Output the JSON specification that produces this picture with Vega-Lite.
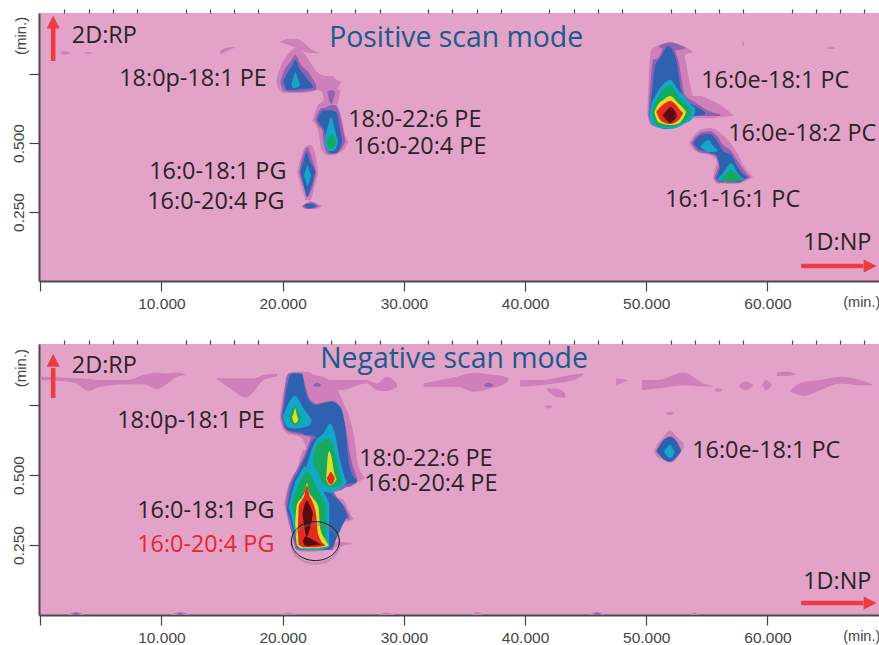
{"$schema":"https://vega.github.io/schema/vega-lite/v6.json","padding":{"left":0,"top":8,"right":0,"bottom":0},"background":"white","bounds":"flush","spacing":63,
"config":{"view":{"fill":"#e3a2c7","stroke":null},"axis":{"grid":false,"title":null}},
"datasets":{
"p1":[
{"c":"a","l":0,"x":19.47,"y":0.725,"v":0.725},{"c":"a","l":0,"x":19.72,"y":0.764,"v":0.692},{"c":"a","l":0,"x":20.21,"y":0.808,"v":0.681},{"c":"a","l":0,"x":20.79,"y":0.837,"v":0.681},{"c":"a","l":0,"x":21.2,"y":0.848,"v":0.681},{"c":"a","l":0,"x":21.7,"y":0.83,"v":0.681},{"c":"a","l":0,"x":22.28,"y":0.793,"v":0.685},{"c":"a","l":0,"x":22.85,"y":0.757,"v":0.692},{"c":"a","l":0,"x":23.51,"y":0.743,"v":0.685},{"c":"a","l":0,"x":24.09,"y":0.743,"v":0.692},{"c":"a","l":0,"x":24.42,"y":0.73,"v":0.695},{"c":"a","l":0,"x":24.83,"y":0.721,"v":0.721},
{"c":"b","l":0,"x":19.72,"y":0.866,"v":0.866},{"c":"b","l":0,"x":20.46,"y":0.877,"v":0.855},{"c":"b","l":0,"x":21.2,"y":0.877,"v":0.844},{"c":"b","l":0,"x":21.86,"y":0.859,"v":0.83},{"c":"b","l":0,"x":22.44,"y":0.837,"v":0.826},{"c":"b","l":0,"x":23.27,"y":0.826,"v":0.826},
{"c":"c","l":0,"x":23.27,"y":0.692,"v":0.692},{"c":"c","l":0,"x":23.51,"y":0.699,"v":0.638},{"c":"c","l":0,"x":24.01,"y":0.706,"v":0.627},{"c":"c","l":0,"x":24.5,"y":0.699,"v":0.638},{"c":"c","l":0,"x":24.75,"y":0.692,"v":0.692},
{"c":"d","l":0,"x":22.44,"y":0.58,"v":0.58},{"c":"d","l":0,"x":22.94,"y":0.638,"v":0.547},{"c":"d","l":0,"x":23.18,"y":0.648,"v":0.475},{"c":"d","l":0,"x":23.76,"y":0.656,"v":0.456},{"c":"d","l":0,"x":24.26,"y":0.645,"v":0.456},{"c":"d","l":0,"x":24.75,"y":0.612,"v":0.467},{"c":"d","l":0,"x":25.16,"y":0.529,"v":0.482},{"c":"d","l":0,"x":25.41,"y":0.504,"v":0.504},
{"c":"e","l":0,"x":21.2,"y":0.395,"v":0.395},{"c":"e","l":0,"x":21.45,"y":0.438,"v":0.355},{"c":"e","l":0,"x":21.7,"y":0.475,"v":0.322},{"c":"e","l":0,"x":21.95,"y":0.489,"v":0.293},{"c":"e","l":0,"x":22.28,"y":0.493,"v":0.293},{"c":"e","l":0,"x":22.6,"y":0.475,"v":0.337},{"c":"e","l":0,"x":22.94,"y":0.391,"v":0.391},
{"c":"f","l":0,"x":21.53,"y":0.272,"v":0.272},{"c":"f","l":0,"x":21.86,"y":0.279,"v":0.261},{"c":"f","l":0,"x":22.28,"y":0.29,"v":0.261},{"c":"f","l":0,"x":22.77,"y":0.279,"v":0.261},{"c":"f","l":0,"x":23.27,"y":0.272,"v":0.272},
{"c":"g","l":0,"x":1.65,"y":0.826,"v":0.826},{"c":"g","l":0,"x":1.98,"y":0.833,"v":0.819},{"c":"g","l":0,"x":2.48,"y":0.826,"v":0.826},
{"c":"h","l":0,"x":3.55,"y":0.826,"v":0.826},{"c":"h","l":0,"x":3.96,"y":0.83,"v":0.822},{"c":"h","l":0,"x":4.37,"y":0.826,"v":0.826},
{"c":"i","l":0,"x":14.85,"y":0.834,"v":0.82},{"c":"i","l":0,"x":15.26,"y":0.844,"v":0.83},{"c":"i","l":0,"x":16.09,"y":0.848,"v":0.846},
{"c":"j","l":0,"x":50.08,"y":0.601,"v":0.601},{"c":"j","l":0,"x":50.24,"y":0.764,"v":0.576},{"c":"j","l":0,"x":50.41,"y":0.837,"v":0.565},{"c":"j","l":0,"x":50.82,"y":0.851,"v":0.558},{"c":"j","l":0,"x":51.48,"y":0.859,"v":0.551},{"c":"j","l":0,"x":52.14,"y":0.859,"v":0.554},{"c":"j","l":0,"x":52.8,"y":0.848,"v":0.572},{"c":"j","l":0,"x":53.13,"y":0.819,"v":0.583},{"c":"j","l":0,"x":53.63,"y":0.71,"v":0.59},{"c":"j","l":0,"x":53.87,"y":0.67,"v":0.59},{"c":"j","l":0,"x":54.45,"y":0.67,"v":0.59},{"c":"j","l":0,"x":55.28,"y":0.656,"v":0.59},{"c":"j","l":0,"x":56.1,"y":0.638,"v":0.594},{"c":"j","l":0,"x":57.17,"y":0.601,"v":0.598},
{"c":"k","l":0,"x":52.64,"y":0.844,"v":0.815},{"c":"k","l":0,"x":53.3,"y":0.844,"v":0.822},{"c":"k","l":0,"x":53.87,"y":0.83,"v":0.83},
{"c":"m","l":0,"x":53.54,"y":0.5,"v":0.5},{"c":"m","l":0,"x":53.96,"y":0.529,"v":0.475},{"c":"m","l":0,"x":54.45,"y":0.547,"v":0.464},{"c":"m","l":0,"x":55.28,"y":0.554,"v":0.456},{"c":"m","l":0,"x":55.77,"y":0.547,"v":0.438},{"c":"m","l":0,"x":56.02,"y":0.54,"v":0.362},{"c":"m","l":0,"x":56.51,"y":0.522,"v":0.351},{"c":"m","l":0,"x":57.34,"y":0.475,"v":0.351},{"c":"m","l":0,"x":58.16,"y":0.409,"v":0.362},{"c":"m","l":0,"x":58.82,"y":0.377,"v":0.377},
{"c":"n","l":0,"x":55.52,"y":0.373,"v":0.373},{"c":"n","l":0,"x":55.77,"y":0.42,"v":0.355},{"c":"n","l":0,"x":56.1,"y":0.438,"v":0.351},
{"c":"o","l":0,"x":57.9,"y":0.86,"v":0.86},{"c":"o","l":0,"x":58.0,"y":0.868,"v":0.852},{"c":"o","l":0,"x":58.1,"y":0.86,"v":0.86},
{"c":"q","l":0,"x":64.9,"y":0.845,"v":0.845},{"c":"q","l":0,"x":65.2,"y":0.85,"v":0.84},{"c":"q","l":0,"x":65.6,"y":0.843,"v":0.843},
{"c":"a","l":1,"x":19.8,"y":0.721,"v":0.721},{"c":"a","l":1,"x":20.13,"y":0.764,"v":0.688},{"c":"a","l":1,"x":20.63,"y":0.793,"v":0.685},{"c":"a","l":1,"x":21.04,"y":0.819,"v":0.685},{"c":"a","l":1,"x":21.53,"y":0.782,"v":0.685},{"c":"a","l":1,"x":22.11,"y":0.757,"v":0.688},{"c":"a","l":1,"x":22.77,"y":0.71,"v":0.692},
{"c":"b","l":1,"x":23.68,"y":0.685,"v":0.685},{"c":"b","l":1,"x":24.01,"y":0.692,"v":0.641},{"c":"b","l":1,"x":24.34,"y":0.685,"v":0.685},
{"c":"c","l":1,"x":22.69,"y":0.583,"v":0.583},{"c":"c","l":1,"x":22.94,"y":0.612,"v":0.562},{"c":"c","l":1,"x":23.27,"y":0.627,"v":0.547},{"c":"c","l":1,"x":23.43,"y":0.627,"v":0.489},{"c":"c","l":1,"x":23.76,"y":0.634,"v":0.46},{"c":"c","l":1,"x":24.26,"y":0.638,"v":0.46},{"c":"c","l":1,"x":24.59,"y":0.619,"v":0.467},{"c":"c","l":1,"x":24.92,"y":0.565,"v":0.485},{"c":"c","l":1,"x":25.16,"y":0.504,"v":0.504},
{"c":"d","l":1,"x":21.37,"y":0.395,"v":0.395},{"c":"d","l":1,"x":21.62,"y":0.445,"v":0.355},{"c":"d","l":1,"x":21.86,"y":0.475,"v":0.33},{"c":"d","l":1,"x":22.03,"y":0.485,"v":0.305},{"c":"d","l":1,"x":22.28,"y":0.465,"v":0.32},{"c":"d","l":1,"x":22.52,"y":0.43,"v":0.35},{"c":"d","l":1,"x":22.77,"y":0.395,"v":0.395},
{"c":"e","l":1,"x":21.62,"y":0.272,"v":0.272},{"c":"e","l":1,"x":21.95,"y":0.282,"v":0.262},{"c":"e","l":1,"x":22.36,"y":0.285,"v":0.262},{"c":"e","l":1,"x":23.02,"y":0.272,"v":0.272},
{"c":"f","l":1,"x":50.16,"y":0.601,"v":0.601},{"c":"f","l":1,"x":50.33,"y":0.71,"v":0.576},{"c":"f","l":1,"x":50.57,"y":0.801,"v":0.565},{"c":"f","l":1,"x":50.99,"y":0.808,"v":0.558},{"c":"f","l":1,"x":51.56,"y":0.851,"v":0.551},{"c":"f","l":1,"x":52.14,"y":0.848,"v":0.554},{"c":"f","l":1,"x":52.64,"y":0.801,"v":0.576},{"c":"f","l":1,"x":53.21,"y":0.674,"v":0.59},{"c":"f","l":1,"x":54.04,"y":0.648,"v":0.598},{"c":"f","l":1,"x":55.03,"y":0.619,"v":0.598},{"c":"f","l":1,"x":56.1,"y":0.605,"v":0.598},
{"c":"g","l":1,"x":51.0,"y":0.85,"v":0.85},{"c":"g","l":1,"x":51.98,"y":0.865,"v":0.835},{"c":"g","l":1,"x":52.8,"y":0.855,"v":0.838},{"c":"g","l":1,"x":53.3,"y":0.845,"v":0.845},
{"c":"h","l":1,"x":53.71,"y":0.5,"v":0.5},{"c":"h","l":1,"x":54.12,"y":0.525,"v":0.475},{"c":"h","l":1,"x":54.62,"y":0.54,"v":0.464},{"c":"h","l":1,"x":55.28,"y":0.543,"v":0.46},{"c":"h","l":1,"x":55.77,"y":0.529,"v":0.449},{"c":"h","l":1,"x":56.35,"y":0.493,"v":0.359},{"c":"h","l":1,"x":56.93,"y":0.475,"v":0.355},{"c":"h","l":1,"x":57.59,"y":0.431,"v":0.355},{"c":"h","l":1,"x":58.16,"y":0.395,"v":0.366},{"c":"h","l":1,"x":58.58,"y":0.377,"v":0.377},
{"c":"i","l":1,"x":55.61,"y":0.373,"v":0.373},{"c":"i","l":1,"x":55.85,"y":0.402,"v":0.359},{"c":"i","l":1,"x":56.35,"y":0.438,"v":0.355},
{"c":"a","l":2,"x":20.05,"y":0.725,"v":0.725},{"c":"a","l":2,"x":20.38,"y":0.754,"v":0.692},{"c":"a","l":2,"x":20.79,"y":0.782,"v":0.692},{"c":"a","l":2,"x":21.04,"y":0.801,"v":0.692},{"c":"a","l":2,"x":21.37,"y":0.772,"v":0.696},{"c":"a","l":2,"x":21.78,"y":0.746,"v":0.696},{"c":"a","l":2,"x":22.52,"y":0.706,"v":0.699},
{"c":"b","l":2,"x":22.85,"y":0.583,"v":0.583},{"c":"b","l":2,"x":23.18,"y":0.612,"v":0.562},{"c":"b","l":2,"x":23.43,"y":0.619,"v":0.547},{"c":"b","l":2,"x":23.6,"y":0.619,"v":0.482},{"c":"b","l":2,"x":24.01,"y":0.619,"v":0.464},{"c":"b","l":2,"x":24.42,"y":0.612,"v":0.464},{"c":"b","l":2,"x":24.67,"y":0.565,"v":0.475},{"c":"b","l":2,"x":24.92,"y":0.507,"v":0.507},
{"c":"c","l":2,"x":21.45,"y":0.395,"v":0.395},{"c":"c","l":2,"x":21.7,"y":0.431,"v":0.355},{"c":"c","l":2,"x":21.86,"y":0.456,"v":0.322},{"c":"c","l":2,"x":22.03,"y":0.467,"v":0.304},{"c":"c","l":2,"x":22.19,"y":0.438,"v":0.322},{"c":"c","l":2,"x":22.44,"y":0.42,"v":0.355},{"c":"c","l":2,"x":22.69,"y":0.395,"v":0.395},
{"c":"d","l":2,"x":21.78,"y":0.272,"v":0.272},{"c":"d","l":2,"x":22.03,"y":0.279,"v":0.264},{"c":"d","l":2,"x":22.36,"y":0.279,"v":0.264},{"c":"d","l":2,"x":22.77,"y":0.272,"v":0.272},
{"c":"e","l":2,"x":50.24,"y":0.601,"v":0.601},{"c":"e","l":2,"x":50.41,"y":0.663,"v":0.572},{"c":"e","l":2,"x":50.74,"y":0.782,"v":0.562},{"c":"e","l":2,"x":51.15,"y":0.808,"v":0.554},{"c":"e","l":2,"x":51.81,"y":0.851,"v":0.551},{"c":"e","l":2,"x":52.47,"y":0.801,"v":0.565},{"c":"e","l":2,"x":52.88,"y":0.692,"v":0.583},{"c":"e","l":2,"x":53.3,"y":0.656,"v":0.59},{"c":"e","l":2,"x":54.04,"y":0.634,"v":0.598},{"c":"e","l":2,"x":54.86,"y":0.612,"v":0.601},
{"c":"f","l":2,"x":53.87,"y":0.5,"v":0.5},{"c":"f","l":2,"x":54.29,"y":0.522,"v":0.478},{"c":"f","l":2,"x":54.78,"y":0.533,"v":0.471},{"c":"f","l":2,"x":55.28,"y":0.533,"v":0.464},{"c":"f","l":2,"x":55.77,"y":0.511,"v":0.456},{"c":"f","l":2,"x":56.43,"y":0.467,"v":0.362},{"c":"f","l":2,"x":57.01,"y":0.456,"v":0.359},{"c":"f","l":2,"x":57.59,"y":0.409,"v":0.359},{"c":"f","l":2,"x":58.08,"y":0.384,"v":0.369},{"c":"f","l":2,"x":58.41,"y":0.377,"v":0.377},
{"c":"g","l":2,"x":55.77,"y":0.373,"v":0.373},{"c":"g","l":2,"x":56.02,"y":0.402,"v":0.362},{"c":"g","l":2,"x":56.43,"y":0.431,"v":0.359},
{"c":"a","l":3,"x":20.71,"y":0.714,"v":0.714},{"c":"a","l":3,"x":20.87,"y":0.735,"v":0.699},{"c":"a","l":3,"x":21.04,"y":0.757,"v":0.699},{"c":"a","l":3,"x":21.29,"y":0.728,"v":0.703},{"c":"a","l":3,"x":21.45,"y":0.71,"v":0.71},
{"c":"b","l":3,"x":23.43,"y":0.507,"v":0.507},{"c":"b","l":3,"x":23.68,"y":0.554,"v":0.475},{"c":"b","l":3,"x":23.84,"y":0.576,"v":0.471},{"c":"b","l":3,"x":23.93,"y":0.594,"v":0.471},{"c":"b","l":3,"x":24.17,"y":0.576,"v":0.471},{"c":"b","l":3,"x":24.34,"y":0.54,"v":0.475},{"c":"b","l":3,"x":24.59,"y":0.507,"v":0.507},
{"c":"c","l":3,"x":21.74,"y":0.384,"v":0.384},{"c":"c","l":3,"x":21.95,"y":0.409,"v":0.355},{"c":"c","l":3,"x":22.03,"y":0.42,"v":0.344},{"c":"c","l":3,"x":22.19,"y":0.402,"v":0.359},{"c":"c","l":3,"x":22.36,"y":0.384,"v":0.384},
{"c":"d","l":3,"x":50.24,"y":0.601,"v":0.601},{"c":"d","l":3,"x":50.41,"y":0.638,"v":0.569},{"c":"d","l":3,"x":50.74,"y":0.67,"v":0.562},{"c":"d","l":3,"x":51.15,"y":0.699,"v":0.554},{"c":"d","l":3,"x":51.98,"y":0.728,"v":0.551},{"c":"d","l":3,"x":52.64,"y":0.692,"v":0.558},{"c":"d","l":3,"x":53.21,"y":0.663,"v":0.572},{"c":"d","l":3,"x":53.71,"y":0.638,"v":0.583},{"c":"d","l":3,"x":54.04,"y":0.627,"v":0.612},
{"c":"e","l":3,"x":54.45,"y":0.485,"v":0.485},{"c":"e","l":3,"x":54.78,"y":0.503,"v":0.475},{"c":"e","l":3,"x":55.11,"y":0.511,"v":0.467},{"c":"e","l":3,"x":55.52,"y":0.489,"v":0.467},{"c":"e","l":3,"x":55.94,"y":0.471,"v":0.471},
{"c":"f","l":3,"x":55.85,"y":0.369,"v":0.369},{"c":"f","l":3,"x":56.27,"y":0.388,"v":0.362},{"c":"f","l":3,"x":57.01,"y":0.427,"v":0.359},{"c":"f","l":3,"x":57.59,"y":0.388,"v":0.362},{"c":"f","l":3,"x":58.16,"y":0.369,"v":0.369},
{"c":"a","l":4,"x":23.65,"y":0.503,"v":0.503},{"c":"a","l":4,"x":23.84,"y":0.522,"v":0.482},{"c":"a","l":4,"x":24.01,"y":0.533,"v":0.478},{"c":"a","l":4,"x":24.26,"y":0.522,"v":0.485},{"c":"a","l":4,"x":24.42,"y":0.503,"v":0.503},
{"c":"b","l":4,"x":50.49,"y":0.612,"v":0.612},{"c":"b","l":4,"x":50.74,"y":0.648,"v":0.572},{"c":"b","l":4,"x":51.15,"y":0.677,"v":0.562},{"c":"b","l":4,"x":51.98,"y":0.71,"v":0.558},{"c":"b","l":4,"x":52.64,"y":0.67,"v":0.565},{"c":"b","l":4,"x":53.13,"y":0.648,"v":0.576},{"c":"b","l":4,"x":53.71,"y":0.62,"v":0.601},
{"c":"c","l":4,"x":56.1,"y":0.366,"v":0.366},{"c":"c","l":4,"x":56.51,"y":0.384,"v":0.362},{"c":"c","l":4,"x":57.01,"y":0.402,"v":0.359},{"c":"c","l":4,"x":57.5,"y":0.384,"v":0.362},{"c":"c","l":4,"x":57.92,"y":0.366,"v":0.366},
{"c":"a","l":5,"x":50.66,"y":0.612,"v":0.612},{"c":"a","l":5,"x":50.99,"y":0.641,"v":0.576},{"c":"a","l":5,"x":51.4,"y":0.656,"v":0.569},{"c":"a","l":5,"x":51.98,"y":0.67,"v":0.565},{"c":"a","l":5,"x":52.55,"y":0.648,"v":0.569},{"c":"a","l":5,"x":52.97,"y":0.63,"v":0.583},{"c":"a","l":5,"x":53.3,"y":0.612,"v":0.612},
{"c":"a","l":6,"x":50.82,"y":0.612,"v":0.612},{"c":"a","l":6,"x":51.15,"y":0.63,"v":0.583},{"c":"a","l":6,"x":51.56,"y":0.645,"v":0.572},{"c":"a","l":6,"x":51.98,"y":0.652,"v":0.569},{"c":"a","l":6,"x":52.47,"y":0.638,"v":0.576},{"c":"a","l":6,"x":52.8,"y":0.619,"v":0.59},{"c":"a","l":6,"x":53.05,"y":0.609,"v":0.609},
{"c":"a","l":7,"x":51.32,"y":0.601,"v":0.601},{"c":"a","l":7,"x":51.65,"y":0.616,"v":0.583},{"c":"a","l":7,"x":51.98,"y":0.63,"v":0.572},{"c":"a","l":7,"x":52.31,"y":0.619,"v":0.583},{"c":"a","l":7,"x":52.55,"y":0.598,"v":0.598}
],
"p2":[
{"c":"a","l":0,"x":19.75,"y":0.708,"v":0.708},{"c":"a","l":0,"x":19.94,"y":0.768,"v":0.672},{"c":"a","l":0,"x":20.21,"y":0.827,"v":0.655},{"c":"a","l":0,"x":20.49,"y":0.863,"v":0.646},{"c":"a","l":0,"x":20.9,"y":0.869,"v":0.643},{"c":"a","l":0,"x":21.59,"y":0.869,"v":0.631},{"c":"a","l":0,"x":22.0,"y":0.869,"v":0.589},{"c":"a","l":0,"x":22.69,"y":0.857,"v":0.482},{"c":"a","l":0,"x":23.65,"y":0.845,"v":0.44},{"c":"a","l":0,"x":24.48,"y":0.809,"v":0.44},{"c":"a","l":0,"x":25.03,"y":0.756,"v":0.458},{"c":"a","l":0,"x":25.85,"y":0.649,"v":0.464},{"c":"a","l":0,"x":26.26,"y":0.53,"v":0.476},{"c":"a","l":0,"x":26.81,"y":0.488,"v":0.488},
{"c":"b","l":0,"x":20.13,"y":0.399,"v":0.399},{"c":"b","l":0,"x":20.35,"y":0.446,"v":0.351},{"c":"b","l":0,"x":20.9,"y":0.494,"v":0.28},{"c":"b","l":0,"x":21.18,"y":0.518,"v":0.232},{"c":"b","l":0,"x":21.73,"y":0.589,"v":0.226},{"c":"b","l":0,"x":22.55,"y":0.589,"v":0.226},{"c":"b","l":0,"x":23.65,"y":0.518,"v":0.232},{"c":"b","l":0,"x":24.06,"y":0.458,"v":0.232},{"c":"b","l":0,"x":24.48,"y":0.422,"v":0.292},{"c":"b","l":0,"x":25.03,"y":0.411,"v":0.327},{"c":"b","l":0,"x":25.71,"y":0.351,"v":0.339},{"c":"b","l":0,"x":25.93,"y":0.345,"v":0.345},
{"c":"c","l":0,"x":23.93,"y":0.256,"v":0.238},{"c":"c","l":0,"x":24.75,"y":0.262,"v":0.246},{"c":"c","l":0,"x":25.85,"y":0.254,"v":0.254},
{"c":"s1","l":0,"x":0.0,"y":0.851,"v":0.839},{"c":"s1","l":0,"x":2.75,"y":0.847,"v":0.831},{"c":"s1","l":0,"x":3.99,"y":0.843,"v":0.8},{"c":"s1","l":0,"x":4.95,"y":0.839,"v":0.815},{"c":"s1","l":0,"x":7.15,"y":0.839,"v":0.824},{"c":"s1","l":0,"x":8.53,"y":0.857,"v":0.824},{"c":"s1","l":0,"x":9.63,"y":0.866,"v":0.807},{"c":"s1","l":0,"x":10.31,"y":0.863,"v":0.821},{"c":"s1","l":0,"x":11.28,"y":0.866,"v":0.851},{"c":"s1","l":0,"x":12.05,"y":0.857,"v":0.857},
{"c":"s2","l":0,"x":14.58,"y":0.847,"v":0.843},{"c":"s2","l":0,"x":15.68,"y":0.845,"v":0.809},{"c":"s2","l":0,"x":17.05,"y":0.845,"v":0.776},{"c":"s2","l":0,"x":17.6,"y":0.845,"v":0.797},{"c":"s2","l":0,"x":18.43,"y":0.857,"v":0.839},{"c":"s2","l":0,"x":19.53,"y":0.863,"v":0.851},
{"c":"s3","l":0,"x":23.1,"y":0.839,"v":0.815},{"c":"s3","l":0,"x":24.75,"y":0.839,"v":0.803},{"c":"s3","l":0,"x":26.95,"y":0.839,"v":0.827},{"c":"s3","l":0,"x":27.78,"y":0.827,"v":0.803},{"c":"s3","l":0,"x":28.6,"y":0.851,"v":0.8},{"c":"s3","l":0,"x":29.43,"y":0.827,"v":0.815},
{"c":"s4","l":0,"x":31.63,"y":0.827,"v":0.815},{"c":"s4","l":0,"x":33.0,"y":0.839,"v":0.815},{"c":"s4","l":0,"x":34.38,"y":0.851,"v":0.815},{"c":"s4","l":0,"x":35.75,"y":0.865,"v":0.797},{"c":"s4","l":0,"x":37.13,"y":0.859,"v":0.809},{"c":"s4","l":0,"x":38.36,"y":0.851,"v":0.827},{"c":"s4","l":0,"x":38.64,"y":0.845,"v":0.839},
{"c":"s5","l":0,"x":39.6,"y":0.839,"v":0.815},{"c":"s5","l":0,"x":41.25,"y":0.839,"v":0.821},{"c":"s5","l":0,"x":44.0,"y":0.859,"v":0.839},{"c":"s5","l":0,"x":44.83,"y":0.863,"v":0.859},
{"c":"s6","l":0,"x":47.52,"y":0.845,"v":0.821},{"c":"s6","l":0,"x":48.54,"y":0.839,"v":0.839},
{"c":"s7","l":0,"x":49.64,"y":0.839,"v":0.803},{"c":"s7","l":0,"x":50.88,"y":0.839,"v":0.809},{"c":"s7","l":0,"x":53.08,"y":0.866,"v":0.821},{"c":"s7","l":0,"x":54.73,"y":0.827,"v":0.817},{"c":"s7","l":0,"x":55.55,"y":0.817,"v":0.817},
{"c":"s8","l":0,"x":57.61,"y":0.821,"v":0.821},{"c":"s8","l":0,"x":58.16,"y":0.833,"v":0.803},{"c":"s8","l":0,"x":58.85,"y":0.821,"v":0.821},
{"c":"s9","l":0,"x":59.54,"y":0.822,"v":0.822},{"c":"s9","l":0,"x":59.9,"y":0.839,"v":0.803},{"c":"s9","l":0,"x":60.36,"y":0.822,"v":0.822},
{"c":"s10","l":0,"x":60.78,"y":0.866,"v":0.854},{"c":"s10","l":0,"x":61.6,"y":0.869,"v":0.854},{"c":"s10","l":0,"x":62.43,"y":0.859,"v":0.859},
{"c":"s11","l":0,"x":61.88,"y":0.803,"v":0.797},{"c":"s11","l":0,"x":62.98,"y":0.833,"v":0.783},{"c":"s11","l":0,"x":64.35,"y":0.839,"v":0.803},{"c":"s11","l":0,"x":66.0,"y":0.851,"v":0.827},{"c":"s11","l":0,"x":67.65,"y":0.839,"v":0.821},{"c":"s11","l":0,"x":68.75,"y":0.821,"v":0.821},
{"c":"s12","l":0,"x":41.8,"y":0.809,"v":0.803},{"c":"s12","l":0,"x":42.63,"y":0.809,"v":0.779},{"c":"s12","l":0,"x":43.31,"y":0.791,"v":0.776},
{"c":"t1","l":0,"x":41.6,"y":0.744,"v":0.744},{"c":"t1","l":0,"x":41.94,"y":0.75,"v":0.738},{"c":"t1","l":0,"x":42.3,"y":0.744,"v":0.744},
{"c":"t2","l":0,"x":51.6,"y":0.72,"v":0.72},{"c":"t2","l":0,"x":51.98,"y":0.726,"v":0.714},{"c":"t2","l":0,"x":52.3,"y":0.72,"v":0.72},
{"c":"t3","l":0,"x":55.6,"y":0.803,"v":0.803},{"c":"t3","l":0,"x":55.96,"y":0.81,"v":0.797},{"c":"t3","l":0,"x":56.3,"y":0.803,"v":0.803},
{"c":"u1","l":0,"x":19.8,"y":0,"v":0},{"c":"u1","l":0,"x":20.49,"y":0.009,"v":0},{"c":"u1","l":0,"x":21.18,"y":0,"v":0},
{"c":"u2","l":0,"x":27.91,"y":0,"v":0},{"c":"u2","l":0,"x":28.6,"y":0.009,"v":0},{"c":"u2","l":0,"x":29.29,"y":0,"v":0},
{"c":"u3","l":0,"x":35.61,"y":0,"v":0},{"c":"u3","l":0,"x":36.08,"y":0.011,"v":0},{"c":"u3","l":0,"x":36.58,"y":0,"v":0},
{"c":"u4","l":0,"x":53.63,"y":0,"v":0},{"c":"u4","l":0,"x":53.96,"y":0.009,"v":0},{"c":"u4","l":0,"x":54.31,"y":0,"v":0},
{"c":"u5","l":0,"x":2.2,"y":0,"v":0},{"c":"u5","l":0,"x":2.97,"y":0.012,"v":0},{"c":"u5","l":0,"x":3.7,"y":0,"v":0},
{"c":"u6","l":0,"x":10.7,"y":0,"v":0},{"c":"u6","l":0,"x":11.55,"y":0.012,"v":0},{"c":"u6","l":0,"x":12.4,"y":0,"v":0},
{"c":"u7","l":0,"x":45.24,"y":0,"v":0},{"c":"u7","l":0,"x":45.98,"y":0.012,"v":0},{"c":"u7","l":0,"x":46.61,"y":0,"v":0},
{"c":"z","l":0,"x":50.6,"y":0.583,"v":0.583},{"c":"z","l":0,"x":50.88,"y":0.607,"v":0.565},{"c":"z","l":0,"x":51.43,"y":0.637,"v":0.553},{"c":"z","l":0,"x":51.98,"y":0.66,"v":0.545},{"c":"z","l":0,"x":52.39,"y":0.643,"v":0.553},{"c":"z","l":0,"x":53.08,"y":0.613,"v":0.597},
{"c":"a","l":1,"x":19.86,"y":0.708,"v":0.708},{"c":"a","l":1,"x":20.08,"y":0.774,"v":0.672},{"c":"a","l":1,"x":20.3,"y":0.845,"v":0.66},{"c":"a","l":1,"x":20.49,"y":0.863,"v":0.655},{"c":"a","l":1,"x":20.9,"y":0.865,"v":0.649},{"c":"a","l":1,"x":21.59,"y":0.86,"v":0.643},{"c":"a","l":1,"x":21.86,"y":0.82,"v":0.64},{"c":"a","l":1,"x":22.28,"y":0.77,"v":0.635},{"c":"a","l":1,"x":22.83,"y":0.755,"v":0.6},{"c":"a","l":1,"x":23.38,"y":0.76,"v":0.55},{"c":"a","l":1,"x":24.06,"y":0.765,"v":0.455},{"c":"a","l":1,"x":24.75,"y":0.74,"v":0.445},{"c":"a","l":1,"x":25.16,"y":0.68,"v":0.455},{"c":"a","l":1,"x":25.63,"y":0.56,"v":0.46},{"c":"a","l":1,"x":26.13,"y":0.49,"v":0.475},
{"c":"d","l":1,"x":22.5,"y":0.82,"v":0.82},{"c":"d","l":1,"x":22.83,"y":0.83,"v":0.815},{"c":"d","l":1,"x":23.2,"y":0.82,"v":0.82},
{"c":"b","l":1,"x":20.24,"y":0.4,"v":0.4},{"c":"b","l":1,"x":20.46,"y":0.45,"v":0.345},{"c":"b","l":1,"x":20.79,"y":0.49,"v":0.285},{"c":"b","l":1,"x":21.12,"y":0.515,"v":0.234},{"c":"b","l":1,"x":21.73,"y":0.565,"v":0.23},{"c":"b","l":1,"x":22.55,"y":0.64,"v":0.23},{"c":"b","l":1,"x":23.79,"y":0.5,"v":0.232},{"c":"b","l":1,"x":24.15,"y":0.45,"v":0.232},{"c":"b","l":1,"x":24.61,"y":0.41,"v":0.33},{"c":"b","l":1,"x":25.08,"y":0.39,"v":0.345},{"c":"b","l":1,"x":25.52,"y":0.35,"v":0.34},
{"c":"e","l":1,"x":36.58,"y":0.821,"v":0.821},{"c":"e","l":1,"x":36.99,"y":0.83,"v":0.814},{"c":"e","l":1,"x":37.4,"y":0.821,"v":0.821},
{"c":"f","l":1,"x":2.6,"y":0,"v":0},{"c":"f","l":1,"x":2.97,"y":0.009,"v":0},{"c":"f","l":1,"x":3.3,"y":0,"v":0},
{"c":"g","l":1,"x":11.2,"y":0,"v":0},{"c":"g","l":1,"x":11.55,"y":0.008,"v":0},{"c":"g","l":1,"x":11.9,"y":0,"v":0},
{"c":"h","l":1,"x":45.6,"y":0,"v":0},{"c":"h","l":1,"x":45.98,"y":0.009,"v":0},{"c":"h","l":1,"x":46.3,"y":0,"v":0},
{"c":"a","l":2,"x":19.97,"y":0.708,"v":0.708},{"c":"a","l":2,"x":20.13,"y":0.756,"v":0.678},{"c":"a","l":2,"x":20.41,"y":0.827,"v":0.663},{"c":"a","l":2,"x":20.63,"y":0.857,"v":0.657},{"c":"a","l":2,"x":20.9,"y":0.863,"v":0.655},{"c":"a","l":2,"x":21.59,"y":0.863,"v":0.651},{"c":"a","l":2,"x":21.86,"y":0.803,"v":0.643},{"c":"a","l":2,"x":22.28,"y":0.762,"v":0.643},{"c":"a","l":2,"x":22.83,"y":0.75,"v":0.631},{"c":"a","l":2,"x":23.38,"y":0.756,"v":0.565},{"c":"a","l":2,"x":24.06,"y":0.762,"v":0.47},{"c":"a","l":2,"x":24.75,"y":0.744,"v":0.452},{"c":"a","l":2,"x":25.16,"y":0.672,"v":0.464},{"c":"a","l":2,"x":25.44,"y":0.553,"v":0.47},{"c":"a","l":2,"x":25.85,"y":0.494,"v":0.47},{"c":"a","l":2,"x":26.18,"y":0.482,"v":0.482},
{"c":"b","l":2,"x":20.35,"y":0.375,"v":0.375},{"c":"b","l":2,"x":20.57,"y":0.434,"v":0.351},{"c":"b","l":2,"x":20.9,"y":0.482,"v":0.292},{"c":"b","l":2,"x":21.23,"y":0.506,"v":0.238},{"c":"b","l":2,"x":21.86,"y":0.565,"v":0.232},{"c":"b","l":2,"x":22.69,"y":0.631,"v":0.232},{"c":"b","l":2,"x":23.79,"y":0.518,"v":0.234},{"c":"b","l":2,"x":23.98,"y":0.44,"v":0.238},{"c":"b","l":2,"x":24.75,"y":0.405,"v":0.303},{"c":"b","l":2,"x":25.16,"y":0.375,"v":0.339},{"c":"b","l":2,"x":25.36,"y":0.351,"v":0.351},
{"c":"z","l":2,"x":50.82,"y":0.585,"v":0.585},{"c":"z","l":2,"x":51.29,"y":0.619,"v":0.562},{"c":"z","l":2,"x":51.98,"y":0.637,"v":0.547},{"c":"z","l":2,"x":52.53,"y":0.619,"v":0.565},{"c":"z","l":2,"x":52.86,"y":0.589,"v":0.585},
{"c":"a","l":3,"x":20.02,"y":0.708,"v":0.708},{"c":"a","l":3,"x":20.35,"y":0.744,"v":0.672},{"c":"a","l":3,"x":21.04,"y":0.782,"v":0.666},{"c":"a","l":3,"x":21.73,"y":0.738,"v":0.67},{"c":"a","l":3,"x":22.22,"y":0.708,"v":0.678},{"c":"a","l":3,"x":22.41,"y":0.696,"v":0.696},
{"c":"b","l":3,"x":20.49,"y":0.387,"v":0.387},{"c":"b","l":3,"x":20.76,"y":0.434,"v":0.345},{"c":"b","l":3,"x":21.04,"y":0.476,"v":0.28},{"c":"b","l":3,"x":21.31,"y":0.496,"v":0.238},{"c":"b","l":3,"x":21.86,"y":0.53,"v":0.232},{"c":"b","l":3,"x":22.28,"y":0.53,"v":0.232},{"c":"b","l":3,"x":22.96,"y":0.47,"v":0.232},{"c":"b","l":3,"x":23.6,"y":0.422,"v":0.238},{"c":"b","l":3,"x":23.84,"y":0.399,"v":0.246},
{"c":"c","l":3,"x":21.73,"y":0.482,"v":0.482},{"c":"c","l":3,"x":22.28,"y":0.577,"v":0.47},{"c":"c","l":3,"x":22.69,"y":0.619,"v":0.44},{"c":"c","l":3,"x":23.38,"y":0.649,"v":0.44},{"c":"c","l":3,"x":23.93,"y":0.684,"v":0.437},{"c":"c","l":3,"x":24.26,"y":0.655,"v":0.44},{"c":"c","l":3,"x":24.75,"y":0.553,"v":0.452},{"c":"c","l":3,"x":25.16,"y":0.488,"v":0.464},{"c":"c","l":3,"x":25.3,"y":0.476,"v":0.476},
{"c":"z","l":3,"x":51.48,"y":0.583,"v":0.583},{"c":"z","l":3,"x":51.7,"y":0.597,"v":0.569},{"c":"z","l":3,"x":51.98,"y":0.609,"v":0.559},{"c":"z","l":3,"x":52.2,"y":0.595,"v":0.569},{"c":"z","l":3,"x":52.39,"y":0.583,"v":0.583},
{"c":"a","l":4,"x":20.49,"y":0.708,"v":0.708},{"c":"a","l":4,"x":20.76,"y":0.726,"v":0.684},{"c":"a","l":4,"x":21.01,"y":0.75,"v":0.678},{"c":"a","l":4,"x":21.31,"y":0.726,"v":0.684},{"c":"a","l":4,"x":21.59,"y":0.702,"v":0.702},
{"c":"b","l":4,"x":20.76,"y":0.387,"v":0.387},{"c":"b","l":4,"x":21.04,"y":0.434,"v":0.345},{"c":"b","l":4,"x":21.31,"y":0.464,"v":0.268},{"c":"b","l":4,"x":21.59,"y":0.488,"v":0.244},{"c":"b","l":4,"x":22.0,"y":0.512,"v":0.238},{"c":"b","l":4,"x":22.41,"y":0.494,"v":0.238},{"c":"b","l":4,"x":22.96,"y":0.44,"v":0.238},{"c":"b","l":4,"x":23.38,"y":0.411,"v":0.244},{"c":"b","l":4,"x":23.6,"y":0.387,"v":0.256},
{"c":"c","l":4,"x":22.55,"y":0.565,"v":0.53},{"c":"c","l":4,"x":22.83,"y":0.607,"v":0.518},{"c":"c","l":4,"x":23.38,"y":0.625,"v":0.464},{"c":"c","l":4,"x":23.79,"y":0.631,"v":0.458},{"c":"c","l":4,"x":24.34,"y":0.577,"v":0.458},{"c":"c","l":4,"x":24.7,"y":0.506,"v":0.464},{"c":"c","l":4,"x":24.97,"y":0.476,"v":0.476},
{"c":"a","l":5,"x":20.78,"y":0.708,"v":0.708},{"c":"a","l":5,"x":20.9,"y":0.72,"v":0.69},{"c":"a","l":5,"x":21.04,"y":0.738,"v":0.685},{"c":"a","l":5,"x":21.2,"y":0.71,"v":0.69},{"c":"a","l":5,"x":21.3,"y":0.7,"v":0.7},
{"c":"b","l":5,"x":23.6,"y":0.485,"v":0.485},{"c":"b","l":5,"x":23.75,"y":0.575,"v":0.47},{"c":"b","l":5,"x":23.85,"y":0.585,"v":0.465},{"c":"b","l":5,"x":24.0,"y":0.57,"v":0.465},{"c":"b","l":5,"x":24.3,"y":0.5,"v":0.475},{"c":"b","l":5,"x":24.45,"y":0.485,"v":0.485},
{"c":"c","l":5,"x":21.04,"y":0.33,"v":0.33},{"c":"c","l":5,"x":21.18,"y":0.395,"v":0.25},{"c":"c","l":5,"x":21.59,"y":0.42,"v":0.238},{"c":"c","l":5,"x":21.86,"y":0.445,"v":0.238},{"c":"c","l":5,"x":22.0,"y":0.472,"v":0.238},{"c":"c","l":5,"x":22.14,"y":0.445,"v":0.238},{"c":"c","l":5,"x":22.47,"y":0.42,"v":0.238},{"c":"c","l":5,"x":22.96,"y":0.385,"v":0.238},{"c":"c","l":5,"x":23.1,"y":0.31,"v":0.24},{"c":"c","l":5,"x":23.51,"y":0.27,"v":0.244},{"c":"c","l":5,"x":23.79,"y":0.25,"v":0.246},
{"c":"a","l":6,"x":23.65,"y":0.488,"v":0.488},{"c":"a","l":6,"x":23.79,"y":0.5,"v":0.472},{"c":"a","l":6,"x":23.98,"y":0.512,"v":0.466},{"c":"a","l":6,"x":24.17,"y":0.5,"v":0.472},{"c":"a","l":6,"x":24.31,"y":0.488,"v":0.488},
{"c":"b","l":6,"x":21.26,"y":0.3,"v":0.3},{"c":"b","l":6,"x":21.34,"y":0.39,"v":0.25},{"c":"b","l":6,"x":21.59,"y":0.41,"v":0.244},{"c":"b","l":6,"x":21.81,"y":0.43,"v":0.242},{"c":"b","l":6,"x":21.92,"y":0.455,"v":0.242},{"c":"b","l":6,"x":22.0,"y":0.462,"v":0.242},{"c":"b","l":6,"x":22.08,"y":0.455,"v":0.242},{"c":"b","l":6,"x":22.19,"y":0.43,"v":0.242},{"c":"b","l":6,"x":22.41,"y":0.41,"v":0.242},{"c":"b","l":6,"x":22.77,"y":0.355,"v":0.242},{"c":"b","l":6,"x":22.88,"y":0.3,"v":0.243},{"c":"b","l":6,"x":23.1,"y":0.27,"v":0.244},{"c":"b","l":6,"x":23.51,"y":0.25,"v":0.248},
{"c":"a","l":7,"x":21.64,"y":0.36,"v":0.36},{"c":"a","l":7,"x":21.81,"y":0.395,"v":0.31},{"c":"a","l":7,"x":22.0,"y":0.41,"v":0.28},{"c":"a","l":7,"x":22.19,"y":0.395,"v":0.3},{"c":"a","l":7,"x":22.41,"y":0.375,"v":0.34},{"c":"a","l":7,"x":22.5,"y":0.363,"v":0.363},
{"c":"b","l":7,"x":21.67,"y":0.262,"v":0.262},{"c":"b","l":7,"x":21.86,"y":0.28,"v":0.248},{"c":"b","l":7,"x":22.14,"y":0.276,"v":0.246},{"c":"b","l":7,"x":22.55,"y":0.268,"v":0.249},{"c":"b","l":7,"x":22.96,"y":0.256,"v":0.251},{"c":"b","l":7,"x":23.18,"y":0.251,"v":0.251}
]},
"vconcat":[
{"width":840,"height":268,"resolve":{"axis":{"x":"independent","y":"independent"}},"layer":[
{"data":{"name":"p1"},"mark":{"type":"area","interpolate":"monotone"},"encoding":{"detail":{"field":"c"},"x":{"field":"x","type":"quantitative","scale":{"domain":[-0.1,69.2],"nice":false,"zero":false},"axis":{"values":[0,10,20,30,40,50,60],"labelExpr":"datum.value==0?'':format(datum.value,'.3f')","tickSize":10,"tickWidth":1.2,"tickColor":"#444","domainColor":"#4a4a4a","domainWidth":2,"labelFont":"Liberation Sans","labelFontSize":15.5,"labelColor":"#444","labelPadding":5,"labelFlush":false}},"y":{"field":"y","type":"quantitative","scale":{"domain":[0,0.971],"nice":false,"zero":false},"axis":{"values":[0.25,0.5,0.75],"labelExpr":"datum.value==0.75?'':format(datum.value,'.3f')","labelAngle":-90,"labelAlign":"center","labelBaseline":"bottom","tickSize":10,"tickWidth":1.2,"tickColor":"#444","domainColor":"#4a4a4a","domainWidth":2,"labelFont":"Liberation Sans","labelFontSize":15.5,"labelColor":"#444","labelPadding":3,"minExtent":39,"maxExtent":39}},"y2":{"field":"v"},"color":{"field":"l","type":"ordinal","legend":null,"scale":{"domain":[0,1,2,3,4,5,6,7],"range":["#cf7fb9","#8f62b2","#2e62b0","#12a6c8","#16a85f","#e2df22","#e62a1e","#5a0a10"]}}}},
{"data":{"values":[{"x":1.07,"x2":1.07,"y":0.797,"y2":0.917},{"x":62.78,"x2":67.9,"y":0.054,"y2":0.054}]},"mark":{"type":"rule","color":"#ee3b40","strokeWidth":4.5},"encoding":{"x":{"field":"x","type":"quantitative","axis":{"values":[2,4,6,8,12,14,16,18,22,24,26,28,32,34,36,38,42,44,46,48,52,54,56,58,62,64,66,68],"labels":false,"domain":false,"tickSize":4,"tickWidth":1.2,"tickColor":"#444"}},"x2":{"field":"x2"},"y":{"field":"y","type":"quantitative","axis":{"values":[0.05,0.1,0.15,0.2,0.3,0.35,0.4,0.45,0.55,0.6,0.65,0.7,0.8,0.85,0.9,0.95],"labels":false,"domain":false,"tickSize":4,"tickWidth":1.2,"tickColor":"#444","minExtent":39,"maxExtent":39}},"y2":{"field":"y2"}}},
{"data":{"values":[{"x":1.07,"y":0.938}]},"mark":{"type":"point","shape":"M-1,1L0,-1L1,1Z","filled":true,"opacity":1,"size":169,"color":"#ee3b40"},"encoding":{"x":{"field":"x","type":"quantitative","axis":null},"y":{"field":"y","type":"quantitative","axis":null}}},
{"data":{"values":[{"x":68.47,"y":0.054}]},"mark":{"type":"point","shape":"M-1,-1L1,0L-1,1Z","filled":true,"opacity":1,"size":169,"color":"#ee3b40"},"encoding":{"x":{"field":"x","type":"quantitative","axis":null},"y":{"field":"y","type":"quantitative","axis":null}}},
{"data":{"values":[{"t":"18:0p-18:1 PE","x":6.52,"y":0.732},{"t":"18:0-22:6 PE","x":25.41,"y":0.583},{"t":"16:0-20:4 PE","x":25.82,"y":0.486},{"t":"16:0-18:1 PG","x":8.99,"y":0.395},{"t":"16:0-20:4 PG","x":8.83,"y":0.286},{"t":"16:0e-18:1 PC","x":54.53,"y":0.725},{"t":"16:0e-18:2 PC","x":56.76,"y":0.533},{"t":"16:1-16:1 PC","x":51.56,"y":0.293},{"t":"2D:RP","x":2.61,"y":0.888},{"t":"1D:NP","x":62.95,"y":0.138}]},"mark":{"type":"text","align":"left","baseline":"middle","font":"Open Sans","fontSize":23.4,"color":"#2a2428"},"encoding":{"text":{"field":"t"},"x":{"field":"x","type":"quantitative","axis":null},"y":{"field":"y","type":"quantitative","axis":null}}},
{"data":{"values":[{"t":"Positive scan mode","x":23.84,"y":0.88}]},"mark":{"type":"text","align":"left","baseline":"middle","font":"Open Sans","fontSize":28.4,"color":"#1a5a8c"},"encoding":{"text":{"field":"t"},"x":{"field":"x","type":"quantitative","axis":null},"y":{"field":"y","type":"quantitative","axis":null}}},
{"data":{"values":[{"t":"(min.)","x":66.25,"y":-0.08}]},"mark":{"type":"text","align":"left","baseline":"middle","font":"Liberation Sans","fontSize":14.5,"color":"#444"},"encoding":{"text":{"field":"t"},"x":{"field":"x","type":"quantitative","axis":null},"y":{"field":"y","type":"quantitative","axis":null}}},
{"data":{"values":[{"t":"(min.)","x":-1.6,"y":0.888}]},"mark":{"type":"text","align":"center","baseline":"middle","angle":270,"font":"Liberation Sans","fontSize":15,"color":"#444"},"encoding":{"text":{"field":"t"},"x":{"field":"x","type":"quantitative","axis":null},"y":{"field":"y","type":"quantitative","axis":null}}}
]},
{"width":840,"height":271,"resolve":{"axis":{"x":"independent","y":"independent"}},"layer":[
{"data":{"name":"p2"},"mark":{"type":"area","interpolate":"monotone"},"encoding":{"detail":{"field":"c"},"x":{"field":"x","type":"quantitative","scale":{"domain":[-0.1,69.2],"nice":false,"zero":false},"axis":{"values":[0,10,20,30,40,50,60],"labelExpr":"datum.value==0?'':format(datum.value,'.3f')","tickSize":10,"tickWidth":1.2,"tickColor":"#444","domainColor":"#4a4a4a","domainWidth":2,"labelFont":"Liberation Sans","labelFontSize":15.5,"labelColor":"#444","labelPadding":5,"labelFlush":false}},"y":{"field":"y","type":"quantitative","scale":{"domain":[0,0.968],"nice":false,"zero":false},"axis":{"values":[0.25,0.5,0.75],"labelExpr":"datum.value==0.75?'':format(datum.value,'.3f')","labelAngle":-90,"labelAlign":"center","labelBaseline":"bottom","tickSize":10,"tickWidth":1.2,"tickColor":"#444","domainColor":"#4a4a4a","domainWidth":2,"labelFont":"Liberation Sans","labelFontSize":15.5,"labelColor":"#444","labelPadding":3,"minExtent":39,"maxExtent":39}},"y2":{"field":"v"},"color":{"field":"l","type":"ordinal","legend":null,"scale":{"domain":[0,1,2,3,4,5,6,7],"range":["#cf7fb9","#8f62b2","#2e62b0","#12a6c8","#16a85f","#e2df22","#e62a1e","#5a0a10"]}}}},
{"data":{"values":[{"x":1.07,"x2":1.07,"y":0.775,"y2":0.882},{"x":62.78,"x2":67.9,"y":0.043,"y2":0.043}]},"mark":{"type":"rule","color":"#ee3b40","strokeWidth":4.5},"encoding":{"x":{"field":"x","type":"quantitative","axis":{"values":[2,4,6,8,12,14,16,18,22,24,26,28,32,34,36,38,42,44,46,48,52,54,56,58,62,64,66,68],"labels":false,"domain":false,"tickSize":4,"tickWidth":1.2,"tickColor":"#444"}},"x2":{"field":"x2"},"y":{"field":"y","type":"quantitative","axis":{"values":[0.05,0.1,0.15,0.2,0.3,0.35,0.4,0.45,0.55,0.6,0.65,0.7,0.8,0.85,0.9,0.95],"labels":false,"domain":false,"tickSize":4,"tickWidth":1.2,"tickColor":"#444","minExtent":39,"maxExtent":39}},"y2":{"field":"y2"}}},
{"data":{"values":[{"x":1.07,"y":0.91}]},"mark":{"type":"point","shape":"M-1,1L0,-1L1,1Z","filled":true,"opacity":1,"size":169,"color":"#ee3b40"},"encoding":{"x":{"field":"x","type":"quantitative","axis":null},"y":{"field":"y","type":"quantitative","axis":null}}},
{"data":{"values":[{"x":68.47,"y":0.043}]},"mark":{"type":"point","shape":"M-1,-1L1,0L-1,1Z","filled":true,"opacity":1,"size":169,"color":"#ee3b40"},"encoding":{"x":{"field":"x","type":"quantitative","axis":null},"y":{"field":"y","type":"quantitative","axis":null}}},
{"data":{"values":[{"x":22.7,"y":0.264}]},"mark":{"type":"point","shape":"M-1,0A1,0.8125 0 1,0 1,0A1,0.8125 0 1,0 -1,0Z","filled":false,"opacity":0.35,"size":2304,"color":"#8a6a86","strokeWidth":2.5,"yOffset":3},"encoding":{"x":{"field":"x","type":"quantitative","axis":null},"y":{"field":"y","type":"quantitative","axis":null}}},
{"data":{"values":[{"x":22.7,"y":0.264}]},"mark":{"type":"point","shape":"M-1,0A1,0.8125 0 1,0 1,0A1,0.8125 0 1,0 -1,0Z","filled":false,"opacity":1,"size":2304,"color":"#1a1a1a","strokeWidth":1},"encoding":{"x":{"field":"x","type":"quantitative","axis":null},"y":{"field":"y","type":"quantitative","axis":null}}},
{"data":{"values":[{"t":"18:0p-18:1 PE","x":6.35,"y":0.693},{"t":"18:0-22:6 PE","x":26.32,"y":0.557},{"t":"16:0-20:4 PE","x":26.73,"y":0.468},{"t":"16:0-18:1 PG","x":8.0,"y":0.371},{"t":"16:0e-18:1 PC","x":53.79,"y":0.585},{"t":"2D:RP","x":2.61,"y":0.889},{"t":"1D:NP","x":62.95,"y":0.118}]},"mark":{"type":"text","align":"left","baseline":"middle","font":"Open Sans","fontSize":23.4,"color":"#2a2428"},"encoding":{"text":{"field":"t"},"x":{"field":"x","type":"quantitative","axis":null},"y":{"field":"y","type":"quantitative","axis":null}}},
{"data":{"values":[{"t":"16:0-20:4 PG","x":8.0,"y":0.25}]},"mark":{"type":"text","align":"left","baseline":"middle","font":"Open Sans","fontSize":23.4,"color":"#ea2430"},"encoding":{"text":{"field":"t"},"x":{"field":"x","type":"quantitative","axis":null},"y":{"field":"y","type":"quantitative","axis":null}}},
{"data":{"values":[{"t":"Negative scan mode","x":23.1,"y":0.914}]},"mark":{"type":"text","align":"left","baseline":"middle","font":"Open Sans","fontSize":28.4,"color":"#1a5a8c"},"encoding":{"text":{"field":"t"},"x":{"field":"x","type":"quantitative","axis":null},"y":{"field":"y","type":"quantitative","axis":null}}},
{"data":{"values":[{"t":"(min.)","x":66.25,"y":-0.079}]},"mark":{"type":"text","align":"left","baseline":"middle","font":"Liberation Sans","fontSize":14.5,"color":"#444"},"encoding":{"text":{"field":"t"},"x":{"field":"x","type":"quantitative","axis":null},"y":{"field":"y","type":"quantitative","axis":null}}},
{"data":{"values":[{"t":"(min.)","x":-1.6,"y":0.882}]},"mark":{"type":"text","align":"center","baseline":"middle","angle":270,"font":"Liberation Sans","fontSize":15,"color":"#444"},"encoding":{"text":{"field":"t"},"x":{"field":"x","type":"quantitative","axis":null},"y":{"field":"y","type":"quantitative","axis":null}}}
]}
]}
